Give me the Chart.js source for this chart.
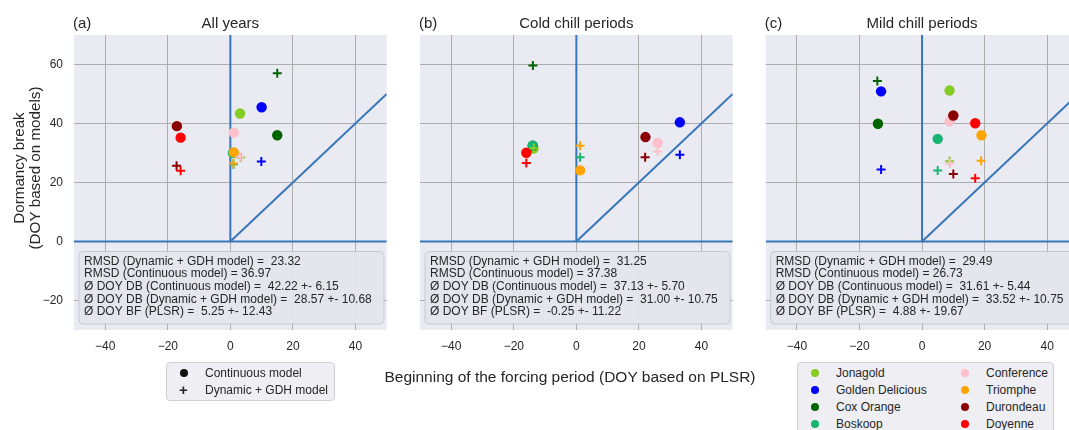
<!DOCTYPE html>
<html>
<head>
<meta charset="utf-8">
<script src="https://cdn.jsdelivr.net/npm/chart.js@4.4.0/dist/chart.umd.min.js"></script>
<style>
  html, body { margin: 0; padding: 0; background: #fff; }
  body {
    width: 1069px; height: 430px; overflow: hidden; position: relative;
    font-family: "Liberation Sans", Arial, sans-serif; color: #262626;
  }
  .panel { position: absolute; top: 0; height: 430px; }
  #xtitle {
    position: absolute; left: 370px; top: 368px; width: 400px;
    text-align: center; font-size: 15.5px; line-height: 18px;
  }
  .legend {
    position: absolute; box-sizing: border-box;
    background: #eeeef3; border: 1px solid #cfcfd6; border-radius: 4px;
    font-size: 12px;
  }
  .item { position: absolute; height: 16px; line-height: 16px; white-space: nowrap; }
  .dot { position: absolute; width: 8px; height: 8px; border-radius: 50%; top: 4px; }
  .plus { position: absolute; top: 0; font-size: 15px; font-weight: bold; line-height: 16px; }
</style>
</head>
<body>
<div class="panel" style="left:0;width:400px"><canvas id="panel-a"></canvas></div>
<div class="panel" style="left:400px;width:340px"><canvas id="panel-b"></canvas></div>
<div class="panel" style="left:740px;width:345px"><canvas id="panel-c"></canvas></div>
<div id="xtitle">Beginning of the forcing period (DOY based on PLSR)</div>
<div class="legend" id="legend-models" style="left:166px;top:362px;width:169px;height:39px"></div>
<div class="legend" id="legend-cultivars" style="left:797px;top:362px;width:257px;height:80px"></div>

<script>
// cultivars and their colours
const cultivars = ['Jonagold', 'Golden Delicious', 'Cox Orange', 'Boskoop', 'Conference', 'Triomphe', 'Durondeau', 'Doyenne'];
const cultivarColors = ['#86cc25', '#0000ff', '#006400', '#17b472', '#ffc0cb', '#ffa500', '#8b0000', '#ff0000'];

const panelLetters = ['(a)', '(b)', '(c)'];
const panelTitles = ['All years', 'Cold chill periods', 'Mild chill periods'];
const yTitle = ['Dormancy break', '(DOY based on models)'];

// x = beginning of forcing (PLSR), y = dormancy break; one value per cultivar
// (a) all years
const contX_a = [3.1, 10.0, 15.0, 0.8, 1.1, 1.1, -17.1, -15.9];
const contY_a = [43.4, 45.5, 36.0, 30.0, 36.9, 30.2, 39.1, 35.2];
const dynX_a = [3.3, 9.9, 15.0, 1.0, 3.1, 1.0, -17.2, -15.9];
const dynY_a = [28.5, 27.1, 57.0, 26.2, 28.7, 26.4, 25.7, 24.0];
// (b) cold chill periods
const contX_b = [-13.7, 33.1, -13.9, -14.0, 26.0, 1.2, 22.1, -16.0];
const contY_b = [31.5, 40.4, 32.4, 32.6, 33.4, 24.1, 35.4, 30.1];
const dynX_b = [-13.6, 33.1, -13.9, 1.2, 26.0, 1.2, 22.0, -16.0];
const dynY_b = [31.6, 29.4, 59.7, 28.6, 30.5, 32.5, 28.6, 26.6];
// (c) mild chill periods
const contX_c = [8.8, -13.1, -14.1, 5.0, 8.8, 19.0, 10.0, 17.0];
const contY_c = [51.2, 50.9, 39.9, 34.8, 40.7, 36.0, 42.7, 40.1];
const dynX_c = [8.8, -13.1, -14.3, 5.0, 8.9, 18.9, 10.0, 17.0];
const dynY_c = [27.2, 24.4, 54.4, 24.1, 26.4, 27.4, 22.9, 21.4];

// summary statistics per panel
const rmsdDynamic = [23.32, 31.25, 29.49];
const rmsdContinuous = [36.97, 37.38, 26.73];
const dbContMean = [42.22, 37.13, 31.61];
const dbContSd = [6.15, 5.70, 5.44];
const dbDynMean = [28.57, 31.00, 33.52];
const dbDynSd = [10.68, 10.75, 10.75];
const bfMean = [5.25, -0.25, 4.88];
const bfSd = [12.43, 11.22, 19.67];

const xTicks = [-40, -20, 0, 20, 40];
const yTicks = [-20, 0, 20, 40, 60];
const xRange = [-50, 50];
const yRange = [-30, 70];

const FONT = '"Liberation Sans", Arial, sans-serif';
const TEXT = '#262626';
const LINE_BLUE = '#3676b8';

const panelData = [
  [contX_a, contY_a, dynX_a, dynY_a],
  [contX_b, contY_b, dynX_b, dynY_b],
  [contX_c, contY_c, dynX_c, dynY_c]
];

// canvas size and where the plot area sits inside it
const layout = [
  { id: 'panel-a', width: 400, plotLeft: 74, plotRight: 386.7 },
  { id: 'panel-b', width: 340, plotLeft: 20, plotRight: 332.7 },
  { id: 'panel-c', width: 345, plotLeft: 25.7, plotRight: 338.4 }
];

const minus = v => String(v).replace('-', '\u2212');

function statLines(i) {
  const f = v => v.toFixed(2);
  return [
    'RMSD (Dynamic + GDH model) =  ' + f(rmsdDynamic[i]),
    'RMSD (Continuous model) = ' + f(rmsdContinuous[i]),
    '\u00d8 DOY DB (Continuous model) =  ' + f(dbContMean[i]) + ' +- ' + f(dbContSd[i]),
    '\u00d8 DOY DB (Dynamic + GDH model) =  ' + f(dbDynMean[i]) + ' +- ' + f(dbDynSd[i]),
    '\u00d8 DOY BF (PLSR) =  ' + f(bfMean[i]) + ' +- ' + f(bfSd[i])
  ];
}

// grey plot background
const plotBackground = {
  id: 'plotBackground',
  beforeDraw(chart) {
    const { ctx, chartArea: a } = chart;
    ctx.save();
    ctx.fillStyle = '#eaeaf2';
    ctx.fillRect(a.left, a.top, a.right - a.left, a.bottom - a.top);
    ctx.restore();
  }
};

// panel letter, title, shared y label and the statistics box
const panelText = {
  id: 'panelText',
  afterDatasetsDraw(chart, args, opts) {
    const { ctx, chartArea: a, scales } = chart;
    ctx.save();
    ctx.fillStyle = TEXT;
    ctx.font = '15px ' + FONT;
    ctx.textBaseline = 'alphabetic';
    ctx.textAlign = 'left';
    ctx.fillText(opts.letter, a.left - 1, 28);
    ctx.textAlign = 'center';
    ctx.fillText(opts.title, (a.left + a.right) / 2, 28);

    if (opts.yTitle) {
      ctx.save();
      ctx.translate(0, 168);
      ctx.rotate(-Math.PI / 2);
      ctx.textBaseline = 'middle';
      ctx.font = '15.2px ' + FONT;
      opts.yTitle.forEach((t, k) => ctx.fillText(t, 0, 19.5 + k * 16));
      ctx.restore();
    }

    const left = a.left + 5;
    const top = scales.y.getPixelForValue(0) + 10;
    const bottom = a.bottom - 6;
    const w = 305;
    ctx.beginPath();
    ctx.roundRect(left, top, w, bottom - top, 4);
    ctx.fillStyle = 'rgba(229, 229, 237, 0.95)';
    ctx.fill();
    ctx.strokeStyle = '#c9c9d1';
    ctx.lineWidth = 1;
    ctx.stroke();

    ctx.fillStyle = TEXT;
    ctx.font = '12px ' + FONT;
    ctx.textAlign = 'left';
    ctx.textBaseline = 'middle';
    opts.lines.forEach((t, k) => ctx.fillText(t, left + 5, top + 9.7 + k * 12.7));
    ctx.restore();
  }
};

function buildDatasets(p) {
  const [cx, cy, dx, dy] = panelData[p];
  const sets = [];
  // zero lines and 1:1 line
  const ref = [
    [{ x: 0, y: 0 }, { x: 0, y: yRange[1] }],
    [{ x: xRange[0], y: 0 }, { x: xRange[1], y: 0 }],
    [{ x: 0, y: 0 }, { x: xRange[1], y: xRange[1] }]
  ];
  ref.forEach(pts => sets.push({
    type: 'line', data: pts, showLine: true, borderColor: LINE_BLUE,
    borderWidth: 2, pointRadius: 0, fill: false
  }));
  cultivars.forEach((name, i) => sets.push({
    label: name + ' (continuous)',
    data: [{ x: cx[i], y: cy[i] }],
    pointStyle: 'circle', pointRadius: 5.2,
    backgroundColor: cultivarColors[i], borderWidth: 0
  }));
  cultivars.forEach((name, i) => sets.push({
    label: name + ' (dynamic + GDH)',
    data: [{ x: dx[i], y: dy[i] }],
    pointStyle: 'cross', pointRadius: 4.5,
    borderColor: cultivarColors[i], borderWidth: 2
  }));
  // first entry drawn first, as in the plotting order
  sets.forEach((s, i) => { s.order = sets.length - i; });
  return sets;
}

layout.forEach((L, p) => {
  const canvas = document.getElementById(L.id);
  new Chart(canvas, {
    type: 'scatter',
    data: { datasets: buildDatasets(p) },
    options: {
      responsive: true,
      maintainAspectRatio: false,
      animation: false,
      events: [],
      layout: { padding: { top: 35, right: L.width - L.plotRight, left: 0, bottom: 0 } },
      scales: {
        x: {
          type: 'linear', min: xRange[0], max: xRange[1],
          afterBuildTicks: s => { s.ticks = xTicks.map(v => ({ value: v })); },
          afterFit: s => { s.height = 100; },
          ticks: { color: TEXT, font: { family: FONT, size: 12 }, padding: 9, callback: minus },
          grid: { color: '#adadad', lineWidth: 1, drawTicks: false },
          border: { display: false }
        },
        y: {
          type: 'linear', min: yRange[0], max: yRange[1],
          afterBuildTicks: s => { s.ticks = yTicks.map(v => ({ value: v })); },
          afterFit: s => { s.width = L.plotLeft; },
          ticks: { display: p === 0, color: TEXT, font: { family: FONT, size: 12 }, padding: 11, callback: minus },
          grid: { color: '#adadad', lineWidth: 1, drawTicks: false },
          border: { display: false }
        }
      },
      plugins: {
        legend: { display: false },
        tooltip: { enabled: false },
        panelText: {
          letter: panelLetters[p], title: panelTitles[p], lines: statLines(p),
          yTitle: p === 0 ? yTitle : null
        }
      }
    },
    plugins: [plotBackground, panelText]
  });
});

// marker legend
const modelLegend = document.getElementById('legend-models');
[['Continuous model', 'dot'], ['Dynamic + GDH model', 'plus']].forEach(([name, kind], r) => {
  const item = document.createElement('div');
  item.className = 'item';
  item.style.left = '0px';
  item.style.top = (2 + r * 17) + 'px';
  item.style.width = '160px';
  const mark = document.createElement('span');
  if (kind === 'dot') {
    mark.className = 'dot';
    mark.style.left = '13px';
    mark.style.background = '#111';
  } else {
    mark.className = 'plus';
    mark.style.left = '12px';
    mark.textContent = '+';
  }
  const label = document.createElement('span');
  label.style.position = 'absolute';
  label.style.left = '38px';
  label.textContent = name;
  item.appendChild(mark);
  item.appendChild(label);
  modelLegend.appendChild(item);
});

// cultivar legend, filled column by column
const cultivarLegend = document.getElementById('legend-cultivars');
cultivars.forEach((name, i) => {
  const col = Math.floor(i / 4), row = i % 4;
  const item = document.createElement('div');
  item.className = 'item';
  item.style.left = (col * 150) + 'px';
  item.style.top = (2 + row * 17) + 'px';
  const mark = document.createElement('span');
  mark.className = 'dot';
  mark.style.left = '13px';
  mark.style.background = cultivarColors[i];
  const label = document.createElement('span');
  label.style.position = 'absolute';
  label.style.left = '38px';
  label.textContent = name;
  item.appendChild(mark);
  item.appendChild(label);
  cultivarLegend.appendChild(item);
});
</script>
</body>
</html>
